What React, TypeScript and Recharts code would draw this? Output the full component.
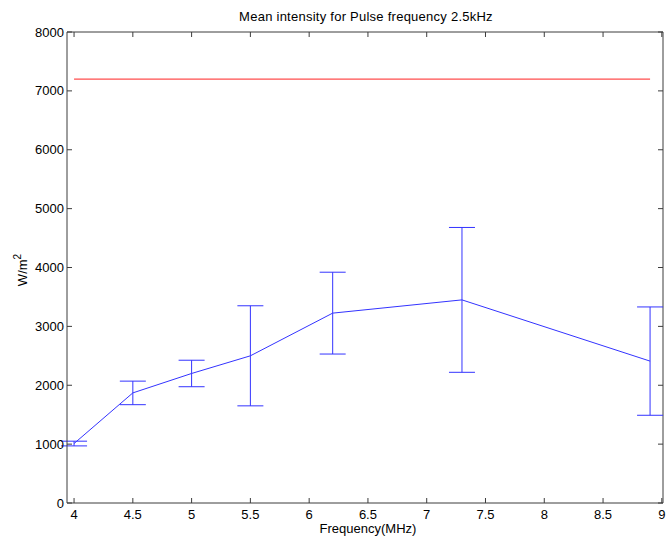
import React from 'react';
import { LineChart, Line, XAxis, YAxis, ErrorBar, ReferenceLine } from 'recharts';

const frequencies = [4, 4.5, 5, 5.5, 6.2, 7.3, 8.9];
const meanIntensity = [1010, 1870, 2200, 2500, 3225, 3450, 2410];
const errors = [40, 200, 225, 850, 695, 1230, 920];
const thresholdX = [4, 8.9];
const thresholdValue = 7200;
const xTicks = [4, 4.5, 5, 5.5, 6, 6.5, 7, 7.5, 8, 8.5, 9];
const yTicks = [0, 1000, 2000, 3000, 4000, 5000, 6000, 7000, 8000];
const xDomain: [number, number] = [3.94, 9.01];
const yDomain: [number, number] = [0, 8000];

const data = frequencies.map((f, i) => ({ f, mean: meanIntensity[i], err: errors[i] }));
const threshold = thresholdX.map((f) => ({ f, limit: thresholdValue }));

const FONT = 'Liberation Sans, Arial, Helvetica, sans-serif';
const axisColor = '#3c3c3c';

const MARGIN = { top: 32, right: 7, bottom: 0, left: 0 };
const W = 670;
const H = 548;
const Y_AXIS_W = 67;
const X_AXIS_H = 45;
const PLOT_LEFT = MARGIN.left + Y_AXIS_W;
const PLOT_RIGHT = W - MARGIN.right;
const PLOT_TOP = MARGIN.top;
const PLOT_BOTTOM = H - MARGIN.bottom - X_AXIS_H;
const TICK = 5;

const XTick = (props: any) => {
  const { x, payload } = props;
  return (
    <g>
      <line x1={x} x2={x} y1={PLOT_BOTTOM} y2={PLOT_BOTTOM - TICK} stroke={axisColor} />
      <line x1={x} x2={x} y1={PLOT_TOP} y2={PLOT_TOP + TICK} stroke={axisColor} />
      <text x={x} y={PLOT_BOTTOM + 16} textAnchor="middle" fontFamily={FONT} fontSize={13} fill="#000">
        {payload.value}
      </text>
    </g>
  );
};

const YTick = (props: any) => {
  const { y, payload } = props;
  return (
    <g>
      <line x1={PLOT_LEFT} x2={PLOT_LEFT + TICK} y1={y} y2={y} stroke={axisColor} />
      <line x1={PLOT_RIGHT} x2={PLOT_RIGHT - TICK} y1={y} y2={y} stroke={axisColor} />
      <text x={PLOT_LEFT - 3} y={y + 4.5} textAnchor="end" fontFamily={FONT} fontSize={13} fill="#000">
        {payload.value}
      </text>
    </g>
  );
};

export default function App() {
  return (
    <div style={{ position: 'absolute', left: 0, top: 0, background: '#fff' }}>
      <LineChart width={W} height={H} margin={MARGIN}>
        <text x={366} y={21} textAnchor="middle" fontFamily={FONT} fontSize={13} letterSpacing={0.25} fill="#000">
          Mean intensity for Pulse frequency 2.5kHz
        </text>
        <text x={368} y={533} textAnchor="middle" fontFamily={FONT} fontSize={13} fill="#000">
          Frequency(MHz)
        </text>
        <text
          x={27}
          y={270}
          textAnchor="middle"
          fontFamily={FONT}
          fontSize={13}
          fill="#000"
          transform="rotate(-90 27 270)"
        >
          W/m
          <tspan fontSize={10} dy={-6}>2</tspan>
        </text>
        <XAxis
          dataKey="f"
          type="number"
          domain={xDomain}
          ticks={xTicks}
          allowDataOverflow
          height={X_AXIS_H}
          stroke={axisColor}
          tickLine={false}
          tickSize={0}
          tickMargin={0}
          tick={(p: any) => <XTick {...p} />}
        />
        <YAxis
          type="number"
          domain={yDomain}
          ticks={yTicks}
          width={Y_AXIS_W}
          stroke={axisColor}
          tickLine={false}
          tickSize={0}
          tickMargin={0}
          tick={(p: any) => <YTick {...p} />}
        />
        <ReferenceLine y={yDomain[1]} stroke={axisColor} />
        <ReferenceLine x={xDomain[1]} stroke={axisColor} />
        <Line
          data={data}
          dataKey="mean"
          stroke="#3333ff"
          strokeWidth={1}
          dot={false}
          isAnimationActive={false}
        >
          <ErrorBar dataKey="err" direction="y" width={13} stroke="#3333ff" strokeWidth={1} isAnimationActive={false} />
        </Line>
        <Line
          data={threshold}
          dataKey="limit"
          stroke="#ff2020"
          strokeWidth={1}
          dot={false}
          isAnimationActive={false}
        />
      </LineChart>
    </div>
  );
}
